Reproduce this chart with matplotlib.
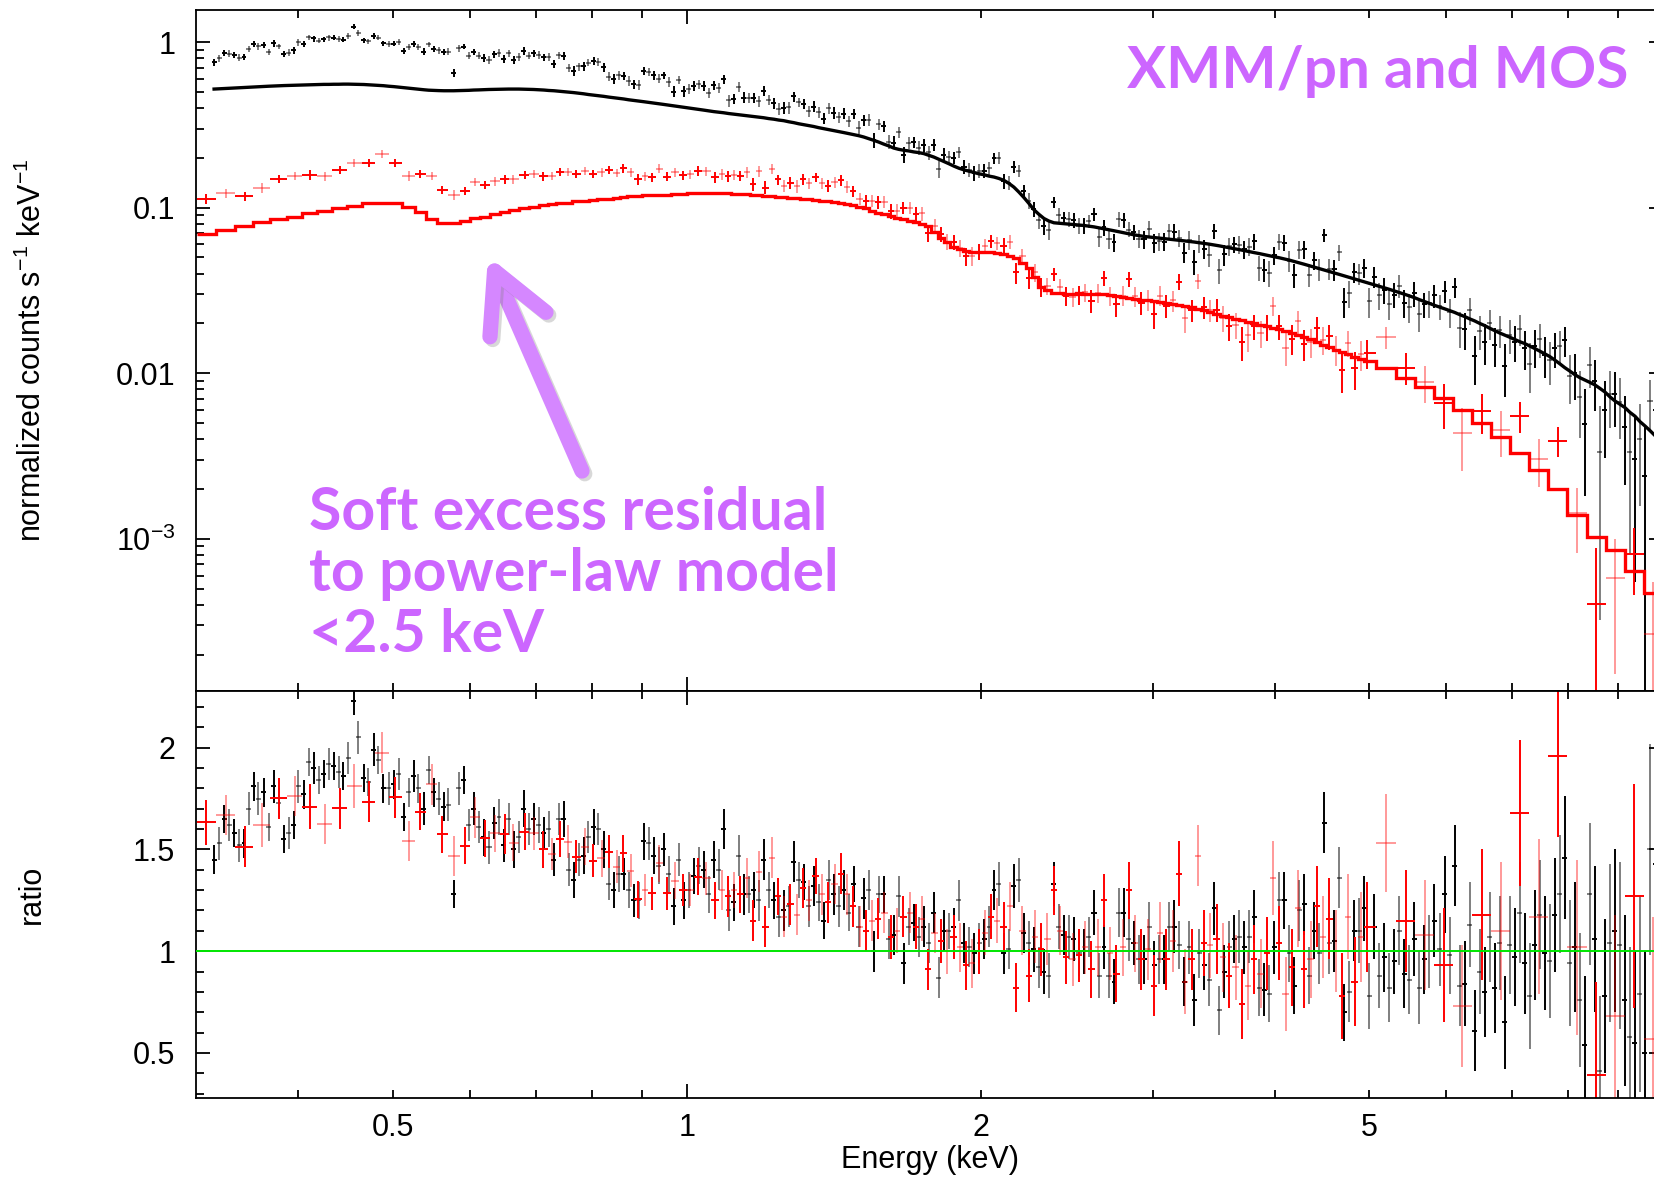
import numpy as np
import matplotlib.pyplot as plt
from matplotlib.ticker import FixedLocator, FixedFormatter
from matplotlib.patches import FancyArrowPatch
import matplotlib.patheffects as pe

plt.rcParams['font.family'] = ['Liberation Sans', 'DejaVu Sans']
plt.rcParams['mathtext.fontset'] = 'custom'
plt.rcParams['mathtext.rm'] = 'Liberation Sans'

# ---------------------------------------------------------
# EPIC-pn spectrum: bin centres (keV), folded model, data/model ratio
# ---------------------------------------------------------
pn_energy = [
    0.328, 0.332, 0.336, 0.340, 0.344, 0.348, 0.352, 0.356, 0.360, 0.364,
    0.369, 0.373, 0.378, 0.382, 0.387, 0.391, 0.396, 0.400, 0.405, 0.410,
    0.415, 0.420, 0.425, 0.430, 0.435, 0.440, 0.445, 0.450, 0.456, 0.461,
    0.467, 0.472, 0.478, 0.483, 0.489, 0.495, 0.501, 0.507, 0.513, 0.519,
    0.525, 0.531, 0.538, 0.544, 0.551, 0.557, 0.564, 0.570, 0.577, 0.584,
    0.591, 0.598, 0.605, 0.612, 0.620, 0.627, 0.635, 0.642, 0.650, 0.657,
    0.665, 0.673, 0.681, 0.689, 0.697, 0.705, 0.714, 0.722, 0.731, 0.739,
    0.748, 0.757, 0.766, 0.775, 0.784, 0.793, 0.803, 0.812, 0.822, 0.832,
    0.842, 0.852, 0.862, 0.872, 0.883, 0.893, 0.904, 0.914, 0.925, 0.936,
    0.947, 0.958, 0.970, 0.981, 0.993, 1.005, 1.017, 1.029,
    1.041, 1.053, 1.066, 1.078, 1.091, 1.104, 1.117, 1.130, 1.144, 1.157,
    1.171, 1.185, 1.199, 1.213, 1.228, 1.242, 1.257, 1.272, 1.287, 1.302,
    1.318, 1.333, 1.349, 1.365, 1.381, 1.397, 1.414, 1.431, 1.448, 1.465,
    1.483, 1.500, 1.518, 1.536, 1.554, 1.572, 1.591, 1.610, 1.629, 1.648,
    1.668, 1.688, 1.708, 1.728, 1.749, 1.770, 1.791, 1.812, 1.834, 1.856,
    1.878, 1.900, 1.923, 1.946, 1.969, 1.992, 2.016, 2.040, 2.064, 2.088,
    2.113, 2.138, 2.163, 2.189, 2.215, 2.241, 2.268, 2.295, 2.322, 2.349,
    2.377, 2.405, 2.434, 2.463, 2.492, 2.522, 2.552, 2.582, 2.613, 2.644,
    2.675, 2.707, 2.739, 2.771, 2.804, 2.837, 2.871, 2.905, 2.940, 2.975,
    3.010, 3.046, 3.082, 3.119, 3.156, 3.193, 3.231, 3.269, 3.308, 3.347,
    3.387, 3.427, 3.468, 3.509, 3.551, 3.593, 3.636, 3.679, 3.723, 3.767,
    3.812, 3.857, 3.903, 3.949, 3.996, 4.044, 4.092, 4.141, 4.190, 4.240,
    4.290, 4.341, 4.393, 4.445, 4.498, 4.551, 4.605, 4.660, 4.715, 4.771,
    4.828, 4.885, 4.943, 5.002, 5.061, 5.121, 5.182, 5.244, 5.306, 5.369,
    5.433, 5.498, 5.563, 5.629, 5.696, 5.764, 5.832, 5.902, 5.972, 6.043,
    6.115, 6.188, 6.261, 6.336, 6.411, 6.487, 6.564, 6.642, 6.721, 6.801,
    6.882, 6.964, 7.047, 7.131, 7.216, 7.302, 7.388, 7.476, 7.565, 7.655,
    7.746, 7.838, 7.931, 8.025, 8.121, 8.217, 8.315, 8.414, 8.514, 8.615,
    8.718, 8.821, 8.926, 9.032, 9.140, 9.248, 9.358, 9.469, 9.582, 9.696,
    9.811,
]
pn_model = [
    0.520, 0.522, 0.524, 0.526, 0.528, 0.530, 0.532, 0.534, 0.536, 0.538,
    0.540, 0.541, 0.543, 0.544, 0.546, 0.547, 0.549, 0.550, 0.551, 0.552,
    0.553, 0.554, 0.555, 0.555, 0.556, 0.556, 0.557, 0.557, 0.556, 0.555,
    0.554, 0.552, 0.550, 0.547, 0.545, 0.541, 0.538, 0.534, 0.530, 0.526,
    0.522, 0.518, 0.515, 0.512, 0.510, 0.509, 0.508, 0.508, 0.508, 0.509,
    0.510, 0.511, 0.513, 0.514, 0.516, 0.517, 0.518, 0.519, 0.520, 0.520,
    0.520, 0.520, 0.519, 0.518, 0.517, 0.515, 0.513, 0.510, 0.508, 0.505,
    0.502, 0.498, 0.495, 0.491, 0.487, 0.482, 0.478, 0.474, 0.470, 0.465,
    0.461, 0.457, 0.453, 0.448, 0.444, 0.440, 0.436, 0.432, 0.428, 0.424,
    0.420, 0.416, 0.412, 0.408, 0.404, 0.400, 0.396, 0.392,
    0.388, 0.384, 0.380, 0.377, 0.374, 0.370, 0.367, 0.364, 0.361, 0.358,
    0.355, 0.352, 0.349, 0.345, 0.342, 0.338, 0.335, 0.330, 0.326, 0.321,
    0.317, 0.313, 0.309, 0.304, 0.300, 0.296, 0.292, 0.288, 0.284, 0.280,
    0.276, 0.272, 0.267, 0.261, 0.255, 0.249, 0.242, 0.236, 0.229, 0.225,
    0.222, 0.220, 0.217, 0.215, 0.212, 0.207, 0.202, 0.196, 0.190, 0.184,
    0.178, 0.173, 0.169, 0.166, 0.163, 0.160, 0.158, 0.155, 0.153, 0.150,
    0.146, 0.140, 0.133, 0.124, 0.115, 0.106, 0.097, 0.091, 0.086, 0.083,
    0.081, 0.0805, 0.080, 0.0795, 0.0790, 0.0785, 0.0780, 0.0773, 0.0765, 0.0755,
    0.0745, 0.0735, 0.0725, 0.0715, 0.0705, 0.0695, 0.0685, 0.0677, 0.0670, 0.0665,
    0.0660, 0.0655, 0.0650, 0.0645, 0.0640, 0.0635, 0.0630, 0.0625, 0.0620, 0.0614,
    0.0608, 0.0602, 0.0595, 0.0588, 0.0580, 0.0573, 0.0565, 0.0558, 0.0550, 0.0543,
    0.0535, 0.0528, 0.0520, 0.0513, 0.0505, 0.0498, 0.0490, 0.0482, 0.0473, 0.0464,
    0.0455, 0.0446, 0.0437, 0.0429, 0.0420, 0.0412, 0.0403, 0.0395, 0.0387, 0.0379,
    0.0371, 0.0364, 0.0356, 0.0349, 0.0342, 0.0335, 0.0328, 0.0321, 0.0314, 0.0307,
    0.0300, 0.0293, 0.0286, 0.0278, 0.0271, 0.0264, 0.0257, 0.0251, 0.0245, 0.0239,
    0.0233, 0.0226, 0.0220, 0.0213, 0.0207, 0.0200, 0.0194, 0.0187, 0.0181, 0.0175,
    0.0170, 0.0165, 0.0160, 0.0155, 0.0151, 0.0146, 0.0141, 0.0136, 0.0131, 0.0126,
    0.0120, 0.0114, 0.0108, 0.0103, 0.0098, 0.0094, 0.0091, 0.0088, 0.0085, 0.0081,
    0.0077, 0.0072, 0.0068, 0.0065, 0.0062, 0.0058, 0.0055, 0.0051, 0.0048, 0.0045,
    0.0042,
]
pn_ratio = [
    1.45, 1.53, 1.65, 1.62, 1.58, 1.52, 1.53, 1.70, 1.81, 1.75,
    1.78, 1.61, 1.81, 1.73, 1.55, 1.58, 1.62, 1.81, 1.77, 1.93,
    1.90, 1.84, 1.87, 1.92, 1.91, 1.88, 1.86, 1.95, 2.23, 2.05,
    1.85, 1.83, 1.99, 1.94, 1.80, 1.80, 1.82, 1.87, 1.66, 1.78,
    1.86, 1.80, 1.70, 1.89, 1.78, 1.75, 1.71, 1.72, 1.28, 1.80,
    1.84, 1.62, 1.70, 1.61, 1.56, 1.51, 1.63, 1.66, 1.52, 1.65,
    1.50, 1.56, 1.70, 1.60, 1.65, 1.62, 1.58, 1.60, 1.45, 1.65,
    1.65, 1.40, 1.35, 1.45, 1.47, 1.56, 1.61, 1.60, 1.50, 1.33,
    1.30, 1.38, 1.38, 1.30, 1.25, 1.25, 1.54, 1.53, 1.47, 1.42,
    1.50, 1.38, 1.22, 1.45, 1.25, 1.30, 1.37, 1.42,
    1.40, 1.28, 1.45, 1.40, 1.60, 1.20, 1.24, 1.47, 1.28, 1.28,
    1.30, 1.25, 1.45, 1.30, 1.25, 1.17, 1.20, 1.22, 1.44, 1.35,
    1.34, 1.22, 1.32, 1.24, 1.15, 1.35, 1.28, 1.22, 1.30, 1.19,
    1.33, 1.12, 1.26, 1.30, 1.00, 1.28, 1.28, 1.06, 1.08, 1.27,
    0.94, 1.12, 1.14, 1.07, 1.12, 1.04, 1.19, 0.87, 1.10, 1.10,
    1.12, 1.25, 1.04, 1.02, 0.99, 1.04, 1.06, 1.12, 1.30, 1.33,
    0.99, 1.01, 1.32, 1.35, 1.09, 1.04, 1.01, 0.92, 0.90, 0.88,
    1.33, 1.12, 1.08, 1.07, 1.06, 0.99, 1.00, 1.07, 1.19, 0.88,
    1.02, 0.88, 0.85, 1.19, 1.19, 1.06, 1.04, 0.96, 0.96, 1.12,
    0.93, 0.96, 0.96, 1.12, 1.12, 1.03, 0.85, 1.02, 0.76, 0.99,
    0.93, 0.86, 1.21, 0.71, 0.90, 1.02, 1.06, 1.07, 1.02, 1.07,
    1.17, 0.82, 0.81, 0.79, 1.02, 1.25, 1.25, 0.99, 0.83, 1.20,
    1.23, 0.88, 1.10, 0.99, 1.63, 1.04, 1.05, 1.36, 0.70, 0.80,
    1.10, 1.10, 1.21, 0.78, 1.12, 0.88, 0.97, 0.82, 0.95, 1.10,
    0.89, 0.86, 1.06, 0.82, 0.96, 1.00, 1.15, 1.01, 1.28, 0.98,
    1.42, 0.83, 0.84, 1.13, 0.61, 0.90, 0.80, 1.07, 0.82, 1.04,
    0.65, 1.03, 0.97, 1.19, 0.94, 0.78, 1.03, 1.18, 0.99, 0.95,
    1.18, 1.28, 1.46, 0.94, 1.02, 0.76, 0.54, 1.28, 1.06, 0.41,
    0.78, 1.04, 1.10, 1.03, 0.76, 0.58, 0.55, 0.79, 0.50, 1.50,
    1.43,
]
pn_ratio_err = [
    0.07, 0.08, 0.07, 0.08, 0.07, 0.08, 0.07, 0.08, 0.07, 0.08,
    0.07, 0.07, 0.08, 0.07, 0.07, 0.08, 0.07, 0.08, 0.07, 0.07,
    0.08, 0.07, 0.07, 0.08, 0.07, 0.08, 0.07, 0.08, 0.07, 0.08,
    0.07, 0.07, 0.08, 0.07, 0.07, 0.08, 0.07, 0.08, 0.07, 0.07,
    0.08, 0.07, 0.08, 0.07, 0.07, 0.08, 0.07, 0.08, 0.07, 0.08,
    0.07, 0.08, 0.08, 0.08, 0.09, 0.08, 0.08, 0.09, 0.08, 0.08,
    0.09, 0.08, 0.09, 0.08, 0.08, 0.09, 0.08, 0.09, 0.08, 0.08,
    0.09, 0.08, 0.09, 0.08, 0.09, 0.08, 0.09, 0.08, 0.09, 0.08,
    0.09, 0.09, 0.08, 0.09, 0.08, 0.09, 0.09, 0.08, 0.09, 0.09,
    0.08, 0.09, 0.09, 0.08, 0.09, 0.09, 0.09, 0.09,
    0.09, 0.09, 0.09, 0.10, 0.10, 0.10, 0.09, 0.10, 0.10, 0.09,
    0.09, 0.10, 0.10, 0.09, 0.09, 0.10, 0.10, 0.10, 0.10, 0.09,
    0.09, 0.10, 0.10, 0.09, 0.09, 0.10, 0.10, 0.10, 0.10, 0.09,
    0.09, 0.10, 0.10, 0.10, 0.10, 0.09, 0.09, 0.10, 0.10, 0.10,
    0.10, 0.09, 0.09, 0.10, 0.10, 0.10, 0.10, 0.10, 0.10, 0.09,
    0.09, 0.10, 0.10, 0.10, 0.10, 0.10, 0.10, 0.10, 0.10, 0.11,
    0.10, 0.10, 0.11, 0.11, 0.10, 0.11, 0.11, 0.10, 0.11, 0.11,
    0.11, 0.11, 0.10, 0.11, 0.11, 0.11, 0.11, 0.10, 0.11, 0.11,
    0.11, 0.11, 0.11, 0.12, 0.12, 0.11, 0.11, 0.12, 0.12, 0.12,
    0.12, 0.12, 0.12, 0.12, 0.13, 0.12, 0.12, 0.13, 0.13, 0.12,
    0.12, 0.13, 0.13, 0.12, 0.13, 0.13, 0.12, 0.13, 0.13, 0.13,
    0.13, 0.14, 0.13, 0.14, 0.13, 0.14, 0.14, 0.14, 0.14, 0.15,
    0.15, 0.14, 0.14, 0.15, 0.15, 0.15, 0.15, 0.15, 0.14, 0.15,
    0.15, 0.16, 0.16, 0.16, 0.16, 0.16, 0.17, 0.17, 0.16, 0.17,
    0.17, 0.17, 0.18, 0.18, 0.17, 0.18, 0.18, 0.18, 0.19, 0.19,
    0.20, 0.20, 0.21, 0.21, 0.20, 0.21, 0.22, 0.22, 0.22, 0.23,
    0.23, 0.24, 0.24, 0.25, 0.25, 0.26, 0.27, 0.27, 0.28, 0.28,
    0.28, 0.29, 0.30, 0.31, 0.32, 0.33, 0.34, 0.35, 0.36, 0.37,
    0.38, 0.39, 0.40, 0.41, 0.42, 0.44, 0.45, 0.48, 0.50, 0.52,
    0.55,
]

# ---------------------------------------------------------
# MOS spectrum
# ---------------------------------------------------------
mos_energy = [
    0.322, 0.337, 0.353, 0.367, 0.382, 0.397, 0.411, 0.426, 0.441, 0.456,
    0.473, 0.487, 0.503, 0.520, 0.533, 0.548, 0.562, 0.578, 0.593, 0.607,
    0.621, 0.636, 0.651, 0.664, 0.683, 0.697, 0.713, 0.728, 0.742, 0.756,
    0.771, 0.787, 0.802, 0.818, 0.833, 0.848, 0.861, 0.876, 0.892, 0.906,
    0.921, 0.937, 0.954, 0.973, 0.991, 1.008, 1.028, 1.047,
    1.070, 1.086, 1.102, 1.118, 1.135, 1.152, 1.169, 1.186, 1.204, 1.222,
    1.240, 1.258, 1.277, 1.296, 1.316, 1.335, 1.355, 1.375, 1.396, 1.417,
    1.438, 1.459, 1.481, 1.503, 1.525, 1.548, 1.571, 1.594, 1.618, 1.642,
    1.667, 1.692, 1.717, 1.742, 1.768, 1.794, 1.821, 1.848, 1.876, 1.904,
    1.932, 1.961, 1.990, 2.020, 2.050, 2.080, 2.111, 2.143, 2.175, 2.207,
    2.240, 2.273, 2.307, 2.341, 2.376, 2.412, 2.448, 2.484, 2.521, 2.559,
    2.597, 2.636, 2.675, 2.715, 2.755, 2.796, 2.837, 2.879, 2.922, 2.966,
    3.010, 3.055, 3.100, 3.146, 3.193, 3.241, 3.289, 3.338, 3.388, 3.438,
    3.489, 3.541, 3.594, 3.648, 3.702, 3.757, 3.813, 3.870, 3.927, 3.986,
    4.045, 4.105, 4.166, 4.228, 4.291, 4.355, 4.420, 4.486, 4.553, 4.621,
    4.689, 4.759, 4.830, 4.902, 4.975,
    5.20, 5.45, 5.70, 5.96, 6.23, 6.52, 6.82, 7.13, 7.46, 7.80,
    8.16, 8.54, 8.93, 9.34, 9.77,
]
mos_model = [
    0.0693, 0.0733, 0.0774, 0.0815, 0.0853, 0.0881, 0.0924, 0.0954, 0.0990, 0.1027,
    0.107, 0.107, 0.1065, 0.101, 0.0945, 0.085, 0.081, 0.081, 0.0833, 0.0862,
    0.088, 0.0911, 0.094, 0.0967, 0.099, 0.1013, 0.103, 0.105, 0.106, 0.107,
    0.109, 0.110, 0.111, 0.112, 0.113, 0.114, 0.1164, 0.117, 0.118, 0.119,
    0.119, 0.120, 0.120, 0.121, 0.121, 0.122, 0.122, 0.122,
    0.122, 0.122, 0.122, 0.1215, 0.121, 0.1205, 0.120, 0.119, 0.118, 0.117,
    0.1165, 0.1158, 0.115, 0.114, 0.113, 0.112, 0.111, 0.110, 0.109, 0.1075,
    0.106, 0.1045, 0.103, 0.101, 0.099, 0.096, 0.093, 0.091, 0.089, 0.087,
    0.085, 0.0835, 0.082, 0.0795, 0.077, 0.0715, 0.066, 0.062, 0.058, 0.056,
    0.0545, 0.0542, 0.0540, 0.0538, 0.0537, 0.0531, 0.0525, 0.051, 0.0495, 0.0462,
    0.0430, 0.038, 0.0330, 0.0317, 0.0305, 0.0303, 0.0302, 0.0302, 0.0303, 0.0302,
    0.0302, 0.0300, 0.0299, 0.0296, 0.0293, 0.0288, 0.0284, 0.0280, 0.0277, 0.0275,
    0.0273, 0.0270, 0.0266, 0.0262, 0.0259, 0.0255, 0.0250, 0.0245, 0.0240, 0.0234,
    0.0228, 0.0223, 0.0218, 0.0213, 0.0209, 0.0204, 0.0200, 0.0196, 0.0192, 0.0188,
    0.0185, 0.0180, 0.0176, 0.0170, 0.0165, 0.0160, 0.0154, 0.0149, 0.0144, 0.0139,
    0.0134, 0.0130, 0.0126, 0.0122, 0.0118,
    0.0108, 0.0094, 0.0082, 0.0071, 0.0060, 0.0050, 0.0041, 0.0033, 0.0026, 0.0020,
    0.00140, 0.00103, 0.00085, 0.00064, 0.00047,
]
mos_ratio = [
    1.633, 1.669, 1.514, 1.620, 1.751, 1.763, 1.710, 1.625, 1.702, 1.812,
    1.735, 1.976, 1.756, 1.542, 1.686, 1.820, 1.574, 1.468, 1.519, 1.658,
    1.555, 1.579, 1.576, 1.533, 1.587, 1.579, 1.500, 1.478, 1.551, 1.538,
    1.465, 1.514, 1.445, 1.456, 1.489, 1.415, 1.481, 1.396, 1.255, 1.301,
    1.284, 1.432, 1.284, 1.347, 1.300, 1.301, 1.366, 1.358,
    1.25, 1.30, 1.27, 1.30, 1.28, 1.36, 1.15, 1.39, 1.12, 1.46,
    1.27, 1.17, 1.23, 1.18, 1.31, 1.25, 1.37, 1.28, 1.24, 1.33,
    1.38, 1.28, 1.22, 1.12, 1.10, 1.15, 1.16, 1.19, 1.07, 1.10,
    1.17, 1.19, 1.12, 1.16, 0.91, 1.09, 1.05, 1.00, 1.07, 1.02,
    0.93, 0.94, 1.00, 1.09, 1.17, 1.15, 1.12, 1.22, 0.82, 1.10,
    0.88, 1.07, 1.01, 1.06, 1.30, 1.10, 0.97, 0.96, 0.98, 1.02,
    0.91, 1.02, 1.25, 0.99, 0.89, 1.02, 1.30, 1.04, 0.96, 1.01,
    0.83, 1.09, 0.96, 1.05, 1.38, 0.85, 0.96, 1.47, 1.04, 1.03,
    1.06, 0.97, 0.88, 0.92, 0.74, 0.83, 0.96, 0.89, 0.99, 1.36,
    1.04, 0.79, 0.92, 1.21, 0.91, 0.96, 1.22, 1.07, 1.16, 1.00,
    0.78, 1.17, 0.85, 1.07, 1.12,
    1.53, 1.15, 1.08, 0.93, 0.73, 1.18, 1.10, 1.68, 1.17, 1.96,
    1.02, 0.39, 0.68, 1.27, 0.57,
]
mos_ratio_err = [
    0.11, 0.10, 0.10, 0.11, 0.10, 0.10, 0.11, 0.10, 0.10, 0.11,
    0.10, 0.10, 0.10, 0.10, 0.09, 0.10, 0.09, 0.10, 0.09, 0.10,
    0.09, 0.09, 0.10, 0.09, 0.09, 0.08, 0.09, 0.08, 0.09, 0.08,
    0.08, 0.09, 0.08, 0.09, 0.08, 0.08, 0.09, 0.08, 0.09, 0.08,
    0.08, 0.09, 0.08, 0.09, 0.08, 0.08, 0.09, 0.08,
    0.09, 0.10, 0.10, 0.09, 0.09, 0.10, 0.10, 0.10, 0.10, 0.10,
    0.09, 0.10, 0.10, 0.10, 0.10, 0.10, 0.09, 0.10, 0.10, 0.10,
    0.10, 0.10, 0.10, 0.10, 0.10, 0.10, 0.10, 0.10, 0.11, 0.11,
    0.10, 0.10, 0.11, 0.11, 0.10, 0.10, 0.11, 0.11, 0.11, 0.12,
    0.12, 0.12, 0.11, 0.11, 0.11, 0.11, 0.12, 0.12, 0.12, 0.12,
    0.13, 0.13, 0.13, 0.13, 0.12, 0.12, 0.13, 0.13, 0.13, 0.13,
    0.14, 0.14, 0.13, 0.13, 0.14, 0.14, 0.14, 0.14, 0.15, 0.15,
    0.15, 0.15, 0.15, 0.15, 0.16, 0.16, 0.15, 0.15, 0.16, 0.16,
    0.17, 0.17, 0.16, 0.16, 0.17, 0.17, 0.17, 0.17, 0.18, 0.18,
    0.18, 0.18, 0.19, 0.19, 0.19, 0.19, 0.20, 0.20, 0.20, 0.20,
    0.21, 0.21, 0.22, 0.22, 0.22,
    0.24, 0.25, 0.27, 0.28, 0.30, 0.32, 0.34, 0.36, 0.38, 0.40,
    0.43, 0.46, 0.50, 0.55, 0.60,
]

x_minor_ticks = [0.4, 0.5, 0.6, 0.7, 0.8, 0.9, 2, 3, 4, 5, 6, 7, 8, 9]
x_minor_labels = ['', '0.5', '', '', '', '', '2', '', '', '5', '', '', '', '']
counts_ticks = [1e-3, 1e-2, 0.1, 1]
counts_labels = [r'$\mathregular{10^{-3}}$', '0.01', '0.1', '1']
ratio_ticks = [0.5, 1, 1.5, 2]
ratio_labels = ['0.5', '1', '1.5', '2']

purple = '#cc66ff'
arrow_purple = '#d587ff'


def bin_edges(e):
    # geometric midpoints between neighbouring channels, mirrored at the ends
    e = np.asarray(e, dtype=float)
    mid = np.sqrt(e[1:] * e[:-1])
    return np.concatenate([[e[0] ** 2 / mid[0]], mid, [e[-1] ** 2 / mid[-1]]])


fig = plt.figure(figsize=(16.54, 11.79), dpi=100)
ax1 = fig.add_axes([0.1185, 0.4142, 0.887, 0.5773])
ax2 = fig.add_axes([0.1185, 0.0687, 0.887, 0.3455])

datasets = [
    (pn_energy, pn_model, pn_ratio, pn_ratio_err, 'black', 0.5),
    (mos_energy, mos_model, mos_ratio, mos_ratio_err, 'red', 0.4),
]

for energy, model, ratio, ratio_err, color, faded in datasets:
    energy = np.array(energy)
    model = np.array(model)
    ratio = np.array(ratio)
    ratio_err = np.array(ratio_err)
    counts = model * ratio
    counts_err = model * ratio_err
    edges = bin_edges(energy)
    x_lo = energy - edges[:-1]
    x_hi = edges[1:] - energy

    # alternate channels drawn lighter, like the two exposures overplotted
    for sl, alpha in ((slice(0, None, 2), 1.0), (slice(1, None, 2), faded)):
        err_lo = np.minimum(counts_err[sl], 0.999 * counts[sl])
        ax1.errorbar(energy[sl], counts[sl], xerr=[x_lo[sl], x_hi[sl]],
                     yerr=[err_lo, counts_err[sl]], fmt='none', ecolor=color,
                     elinewidth=1.4, capsize=0, alpha=alpha)
        ax2.errorbar(energy[sl], ratio[sl], xerr=[x_lo[sl], x_hi[sl]],
                     yerr=ratio_err[sl], fmt='none', ecolor=color,
                     elinewidth=1.4, capsize=0, alpha=alpha)

# folded models
ax1.plot(pn_energy, pn_model, color='black', lw=2.4, zorder=5)
ax1.stairs(mos_model, bin_edges(mos_energy), baseline=None, color='red',
           lw=2.4, zorder=5)

ax2.axhline(1.0, color='#00e600', lw=1.4, zorder=6)

# axes, ticks
for ax in (ax1, ax2):
    ax.set_xscale('log')
    ax.set_xlim(0.3143, 10.0)
    ax.xaxis.set_major_locator(FixedLocator([1, 10]))
    ax.xaxis.set_minor_locator(FixedLocator(x_minor_ticks))
    ax.tick_params(which='both', direction='in', top=True, right=True,
                   width=1.3, labelsize=22)
    ax.tick_params(which='major', length=10)
    ax.tick_params(which='minor', length=5.5)
    ax.tick_params(axis='y', which='both', pad=15)
    ax.tick_params(axis='x', which='both', pad=11)
    for spine in ax.spines.values():
        spine.set_linewidth(1.3)

ax1.set_yscale('log')
ax1.set_ylim(1.21e-4, 1.561)
ax1.yaxis.set_major_locator(FixedLocator(counts_ticks))
ax1.yaxis.set_major_formatter(FixedFormatter(counts_labels))
ax1.yaxis.set_minor_locator(FixedLocator(
    [k * 10.0 ** d for d in (-4, -3, -2, -1, 0) for k in range(2, 10)]))
ax1.tick_params(axis='x', which='both', labelbottom=False)

ax2.set_ylim(0.2786, 2.28)
ax2.yaxis.set_major_locator(FixedLocator(ratio_ticks))
ax2.yaxis.set_major_formatter(FixedFormatter(ratio_labels))
ax2.yaxis.set_minor_locator(FixedLocator(np.arange(0.3, 2.3, 0.1)))
ax2.xaxis.set_major_formatter(FixedFormatter(['1', '']))
ax2.xaxis.set_minor_formatter(FixedFormatter(x_minor_labels))

fig.text(32 / 1654, 1 - 350 / 1179, r'normalized counts s$^{-1}$ keV$^{-1}$',
         rotation=90, ha='center', va='center', fontsize=22)
fig.text(32 / 1654, 1 - 894 / 1179, 'ratio', rotation=90,
         ha='center', va='center', fontsize=22)
fig.text(930 / 1654, 1 - 1160 / 1179, 'Energy (keV)',
         ha='center', va='center', fontsize=22)

# annotations
fig.text(1127 / 1654, 1 - 88 / 1179, 'XMM/pn and MOS', color=purple,
         fontsize=42, fontweight='bold', family=['Lato', 'DejaVu Sans'],
         ha='left', va='baseline')

note_lines = ['Soft excess residual', 'to power-law model', '<2.5 keV']
for i, line in enumerate(note_lines):
    fig.text(309 / 1654, 1 - (530 + 61 * i) / 1179, line, color=purple,
             fontsize=42.5, fontweight='bold', family=['Lato', 'DejaVu Sans'],
             ha='left', va='baseline')

arrow = FancyArrowPatch((582 / 1654, 1 - 471 / 1179), (488 / 1654, 1 - 256 / 1179),
                        transform=fig.transFigure,
                        arrowstyle='->, head_length=0.42, head_width=0.22',
                        mutation_scale=100, lw=11, color=arrow_purple,
                        capstyle='round', joinstyle='round',
                        shrinkA=0, shrinkB=0)
arrow.set_path_effects([pe.SimpleLineShadow(offset=(2, -2), shadow_color='gray',
                                            alpha=0.3), pe.Normal()])
fig.add_artist(arrow)

fig.savefig('out.png', dpi=100)
